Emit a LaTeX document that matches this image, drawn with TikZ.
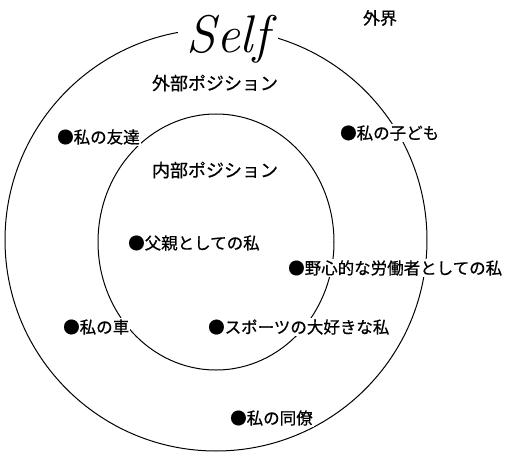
\documentclass[tikz,border=0pt]{standalone}
\usepackage{fontspec}
\newfontfamily\jp[FakeBold=0.6]{Noto Sans CJK JP}
\begin{document}
\begin{tikzpicture}[x=1pt,y=-1pt,
  lbl/.style={font=\jp\fontsize{16.5}{18}\selectfont, fill=white, inner sep=1pt, anchor=west},
  head/.style={font=\jp\fontsize{18}{20}\selectfont, inner sep=1pt},
  ring/.style={draw=black, line width=1pt}]
\useasboundingbox (0,0) rectangle (507,453);
\draw[ring] (216,240) circle[radius=211pt];
\draw[ring] (216,242) ellipse[x radius=118pt, y radius=128pt];
\node[font=\rmfamily\itshape\fontsize{53}{60}\selectfont, fill=white, inner xsep=9pt, inner ysep=1pt, anchor=base] (self) at (228,52) {Self};
\node[font=\jp\fontsize{17}{19}\selectfont, inner sep=1pt] (world) at (380,18) {外界};
\node[head] (outerpos) at (215,83) {外部ポジション};
\node[head] (innerpos) at (215,170) {内部ポジション};
\node[lbl] (friend) at (56,137) {●私の友達};
\node[lbl] (child) at (339,133) {●私の子ども};
\node[lbl] (father) at (127,243) {●父親としての私};
\node[lbl] (worker) at (287,268) {●野心的な労働者としての私};
\node[lbl] (car) at (62,327) {●私の車};
\node[lbl] (sport) at (207,327) {●スポーツの大好きな私};
\node[lbl] (colleague) at (229,418) {●私の同僚};
\end{tikzpicture}
\end{document}
